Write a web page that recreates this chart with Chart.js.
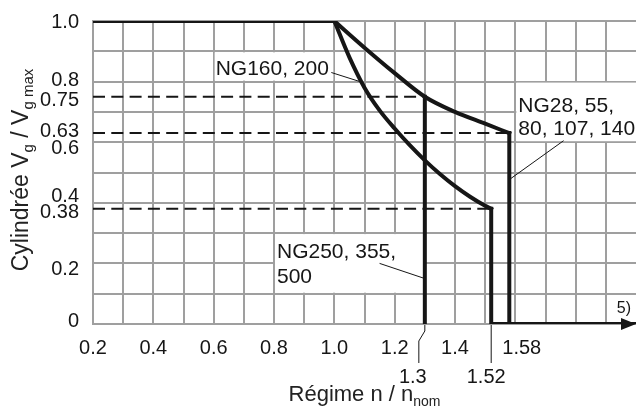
<!DOCTYPE html>
<html lang="fr">
<head>
<meta charset="utf-8">
<title>Cylindrée en fonction du régime</title>
<script src="https://cdn.jsdelivr.net/npm/chart.js@4/dist/chart.umd.min.js"></script>
<style>
  html, body { margin:0; padding:0; background:#fff; }
  canvas { display:block; }
</style>
</head>
<body>
<canvas id="graficoRegime" width="636" height="407"></canvas>
<script>
// ===============================
// DONNÉES
// ===============================
const nMin = 0.2;
const nMax = 2.0;

// lignes de grille (pas de 0,1)
const grilleN = [0.2,0.3,0.4,0.5,0.6,0.7,0.8,0.9,1.0,1.1,1.2,1.3,1.4,1.5,1.6,1.7,1.8,1.9];
const grilleV = [0,0.1,0.2,0.3,0.4,0.5,0.6,0.7,0.8,0.9,1.0];

const xTickLabels = ['0.2','0.4','0.6','0.8','1.0','1.2','1.4'];
const yTickLabels = ['1.0','0.8','0.75','0.63','0.6','0.4','0.38','0.2','0'];

// palier Vg max jusqu'au régime nominal
const nPalier = [0.2, 1.0];
const vPalier = [1.0, 1.0];

// courbe extérieure : NG28…140 (jusqu'à 1.58) et NG250…500 (jusqu'à 1.3)
const nCourbeExt = [1.0, 1.1, 1.2, 1.3, 1.4, 1.5, 1.58];
const vCourbeExt = [1.0, 0.912, 0.828, 0.75, 0.70, 0.661, 0.63];

// courbe intérieure : NG160, 200
const nCourbeInt = [1.0, 1.05, 1.1, 1.15, 1.2, 1.25, 1.3, 1.35, 1.4, 1.45, 1.5, 1.52];
const vCourbeInt = [1.0, 0.88, 0.78, 0.705, 0.645, 0.59, 0.54, 0.495, 0.455, 0.42, 0.39, 0.38];

// régime max et cylindrée correspondante par groupe
const nLimite = [1.3, 1.52, 1.58];
const vLimite = [0.75, 0.38, 0.63];
const nLimiteLabels = ['1.3', '1.52', '1.58'];

const labelNG160 = ['NG160, 200'];
const labelNG28  = ['NG28, 55,', '80, 107, 140'];
const labelNG250 = ['NG250, 355,', '500'];
const renvoi = '5)';


// ===============================
// STYLES
// ===============================
const police = '"Liberation Sans", Arial, Helvetica, sans-serif';
const noir = '#161616';
const gris = '#9f9f9f';
const trait = 4;

// petits décalages verticaux des graduations serrées
const decalageY = { '1.0':1, '0.8':-1, '0.75':4, '0.63':-2, '0.6':6, '0.4':-6, '0.38':4, '0.2':6, '0':-3 };

function pts(xs, ys){
  return xs.map((x,i) => ({ x:x, y:ys[i] }));
}

function ligne(data, extra){
  return Object.assign({
    data: data,
    showLine: true,
    borderColor: noir,
    borderWidth: trait,
    pointRadius: 0,
    fill: false,
    borderCapStyle: 'square',
    borderJoinStyle: 'miter',
    tension: 0
  }, extra || {});
}

const datasets = [
  ligne(pts(nPalier, vPalier)),
  ligne(pts(nCourbeExt, vCourbeExt), { cubicInterpolationMode:'monotone' }),
  ligne(pts(nCourbeInt, vCourbeInt), { cubicInterpolationMode:'monotone' }),
  // chute à régime max
  ligne([{ x:nLimite[0], y:vLimite[0] }, { x:nLimite[0], y:0 }]),
  ligne([{ x:nLimite[2], y:vLimite[2] }, { x:nLimite[2], y:0 }]),
  ligne([{ x:nLimite[1], y:vLimite[1] }, { x:nLimite[1], y:0 }, { x:nMax, y:0 }])
];

// repères en tirets
nLimite.forEach((n,i) => {
  datasets.push(ligne([{ x:nMin, y:vLimite[i] }, { x:n, y:vLimite[i] }], {
    borderWidth: 2,
    borderDash: [12, 6.3],
    borderCapStyle: 'butt'
  }));
});


// ===============================
// TEXTES / ANNOTATIONS
// ===============================
function ecrire(ctx, morceaux, x, y, align){
  // morceaux : [texte, taille, décalage vertical]
  let total = 0;
  morceaux.forEach(m => { ctx.font = m[1] + 'px ' + police; total += ctx.measureText(m[0]).width; });
  let cx = align === 'center' ? x - total/2 : x;
  ctx.textAlign = 'left';
  morceaux.forEach(m => {
    ctx.font = m[1] + 'px ' + police;
    ctx.fillText(m[0], cx, y + m[2]);
    cx += ctx.measureText(m[0]).width;
  });
}

function trait1(ctx, points){
  ctx.beginPath();
  ctx.moveTo(points[0][0], points[0][1]);
  for(let i=1;i<points.length;i++) ctx.lineTo(points[i][0], points[i][1]);
  ctx.stroke();
}

const annotations = {
  id: 'annotations',

  beforeDatasetsDraw(chart){
    const ctx = chart.ctx;
    const sx = chart.scales.x, sy = chart.scales.y;
    const boite = (n0, n1, v0, v1) => {
      const x0 = sx.getPixelForValue(n0) + 1, x1 = sx.getPixelForValue(n1) - 1;
      const y0 = sy.getPixelForValue(v1) + 1, y1 = sy.getPixelForValue(v0) - 1;
      ctx.fillRect(x0, y0, x1 - x0, y1 - y0);
    };
    ctx.save();
    ctx.fillStyle = '#fff';
    boite(0.6, 1.0, 0.8, 0.9);
    boite(1.6, 2.1, 0.6, 0.8);
    boite(0.8, 1.3, 0.1, 0.3);
    ctx.restore();
  },

  afterDatasetsDraw(chart){
    const ctx = chart.ctx;
    const area = chart.chartArea;
    const sx = chart.scales.x, sy = chart.scales.y;
    const px = v => sx.getPixelForValue(v);
    const py = v => sy.getPixelForValue(v);

    ctx.save();
    ctx.fillStyle = noir;
    ctx.strokeStyle = noir;
    ctx.textBaseline = 'alphabetic';

    // flèche au bout de l'axe
    const xb = area.right, yb = py(0);
    ctx.beginPath();
    ctx.moveTo(xb, yb);
    ctx.lineTo(xb - 15, yb - 6);
    ctx.lineTo(xb - 15, yb + 6);
    ctx.closePath();
    ctx.fill();

    // graduations x
    ctx.font = '20px ' + police;
    ctx.textAlign = 'center';
    xTickLabels.forEach(t => ctx.fillText(t, px(parseFloat(t)), yb + 30));

    // graduations y
    ctx.textAlign = 'right';
    ctx.textBaseline = 'middle';
    yTickLabels.forEach(t => ctx.fillText(t, area.left - 14, py(parseFloat(t)) + decalageY[t]));
    ctx.textBaseline = 'alphabetic';

    // régimes limites sous l'axe
    ctx.lineWidth = 1;
    const p13 = px(nLimite[0]), p152 = px(nLimite[1]), p158 = px(nLimite[2]);
    ctx.textAlign = 'center';
    ctx.fillText(nLimiteLabels[0], p13 - 12, yb + 59);
    trait1(ctx, [[p13 - 6, yb + 39], [p13 - 6, yb + 17], [p13, yb + 7], [p13, yb + 1]]);
    ctx.fillText(nLimiteLabels[1], p152 - 5, yb + 59);
    trait1(ctx, [[p152, yb + 1], [p152, yb + 39]]);
    ctx.textAlign = 'left';
    ctx.fillText(nLimiteLabels[2], p158 - 7, yb + 30);

    // étiquettes des groupes
    ctx.font = '21px ' + police;
    ctx.fillText(labelNG160[0], px(0.6) + 2, py(0.9) + 24);
    trait1(ctx, [[px(0.99), py(0.83)], [px(1.085), py(0.8)]]);

    ctx.fillText(labelNG28[0], px(1.6) + 3, py(0.7));
    ctx.fillText(labelNG28[1], px(1.6) + 3, py(0.7) + 23.5);
    trait1(ctx, [[px(1.76), py(0.605)], [px(1.585), py(0.48)]]);

    ctx.fillText(labelNG250[0], px(0.8) + 3, py(0.2) - 5);
    ctx.fillText(labelNG250[1], px(0.8) + 3, py(0.2) + 20);
    trait1(ctx, [[px(1.15), py(0.2)], [px(1.3), py(0.15)]]);

    ctx.font = '16px ' + police;
    ctx.textAlign = 'right';
    ctx.fillText(renvoi, area.right - 5, yb - 11);

    // titres des axes
    ctx.fillStyle = '#222';
    ecrire(ctx, [['Régime n / n', 22, 0], ['nom', 14, 5]], (area.left + area.right) / 2, 401, 'center');

    ctx.translate(28, 170);
    ctx.rotate(-Math.PI / 2);
    ecrire(ctx, [['Cylindrée V', 23, 0], ['g', 15, 5], [' / V', 23, 0], ['g max', 15, 5]], 0, 0, 'center');

    ctx.restore();
  }
};


// ===============================
// GRAPHIQUE
// ===============================
const ctx = document.getElementById('graficoRegime');

new Chart(ctx, {
  type: 'scatter',
  data: { datasets: datasets },
  options: {
    responsive: false,
    animation: false,
    events: [],
    layout: { padding: { left: 93, top: 21, right: 0, bottom: 83 } },
    plugins: {
      legend: { display: false },
      tooltip: { enabled: false }
    },
    scales: {
      x: {
        type: 'linear',
        min: nMin,
        max: nMax,
        afterBuildTicks: s => { s.ticks = grilleN.map(v => ({ value: v })); },
        ticks: { display: false },
        grid: { color: gris, lineWidth: 2, drawTicks: false },
        border: { color: gris, width: 2 }
      },
      y: {
        type: 'linear',
        min: 0,
        max: 1,
        afterBuildTicks: s => { s.ticks = grilleV.map(v => ({ value: v })); },
        ticks: { display: false },
        grid: { color: gris, lineWidth: 2, drawTicks: false },
        border: { color: gris, width: 2 }
      }
    }
  },
  plugins: [annotations]
});
</script>
</body>
</html>
